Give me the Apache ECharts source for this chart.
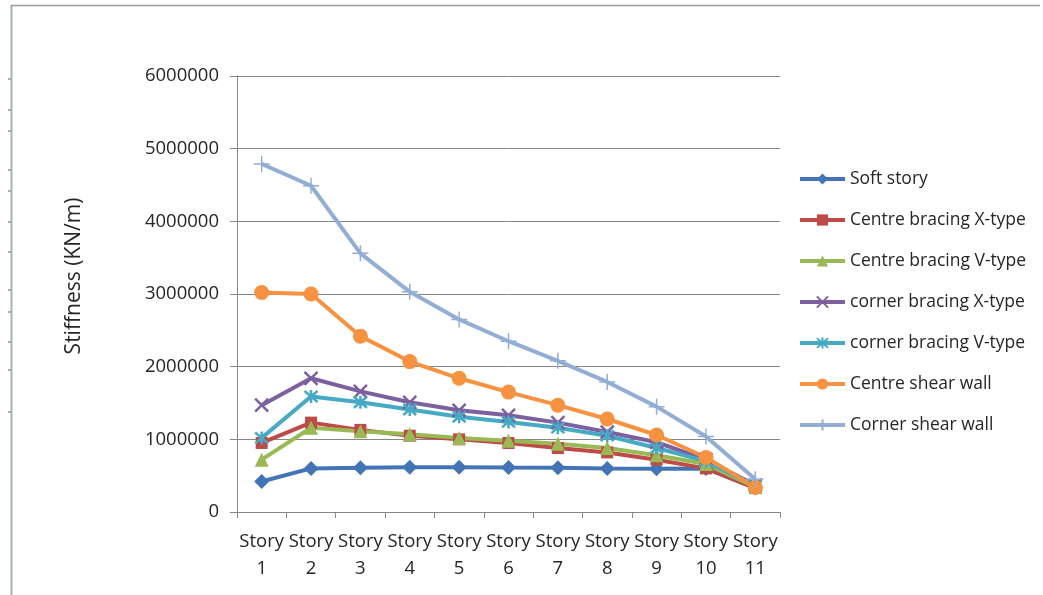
<!DOCTYPE html>
<html>
<head>
<meta charset="utf-8">
<title>Storey stiffness</title>
<script src="https://cdn.jsdelivr.net/npm/echarts@6/dist/echarts.min.js"></script>
<style>
  html, body { margin: 0; padding: 0; background: #ffffff; }
  #chart { width: 1043px; height: 595px; }
</style>
</head>
<body>
<div id="chart"></div>
<script>
// Storeys along the x axis
const stories = ['Story 1', 'Story 2', 'Story 3', 'Story 4', 'Story 5', 'Story 6',
                 'Story 7', 'Story 8', 'Story 9', 'Story 10', 'Story 11'];

// Lateral stiffness per storey (KN/m) for each structural system
const softStory       = [420000, 600000, 610000, 615000, 615000, 612000, 610000, 600000, 595000, 600000, 330000];
const centreBracingX  = [950000, 1230000, 1130000, 1050000, 1000000, 950000, 880000, 820000, 720000, 600000, 330000];
const centreBracingV  = [720000, 1160000, 1110000, 1070000, 1020000, 980000, 940000, 880000, 780000, 660000, 340000];
const cornerBracingX  = [1470000, 1840000, 1660000, 1510000, 1400000, 1330000, 1230000, 1100000, 960000, 720000, 370000];
const cornerBracingV  = [1020000, 1590000, 1510000, 1410000, 1310000, 1240000, 1160000, 1050000, 880000, 700000, 360000];
const centreShearWall = [3020000, 3000000, 2420000, 2070000, 1840000, 1650000, 1470000, 1280000, 1060000, 750000, 340000];
const cornerShearWall = [4790000, 4490000, 3560000, 3030000, 2650000, 2350000, 2080000, 1790000, 1450000, 1040000, 450000];

// Y axis range and step
const yMin = 0;
const yMax = 6000000;
const yStep = 1000000;

const yTitle = 'Stiffness (KN/m)';

const FONT = '"Open Sans", "Noto Sans", sans-serif';
const TEXT = '#262626';
const AXIS = '#868686';

// Stroked marker outlines (drawn with borderColor, no fill)
const X_MARK = 'path://M0,0 L10,10 M10,0 L0,10';
const STAR_MARK = 'path://M5,0 L5,10 M0.8,0.8 L9.2,9.2 M9.2,0.8 L0.8,9.2';
const PLUS_MARK = 'path://M5,0 L5,10 M0,5 L10,5';

const LINE_W = 4;

function filledLine(name, data, color, symbol, size) {
  return {
    name, type: 'line', data,
    symbol, symbolSize: size,
    lineStyle: { color, width: LINE_W },
    itemStyle: { color },
    emphasis: { disabled: true }
  };
}

function strokedLine(name, data, color, symbol, size, bw) {
  return {
    name, type: 'line', data,
    symbol, symbolSize: size,
    lineStyle: { color, width: LINE_W },
    itemStyle: { color: 'rgba(0,0,0,0)', borderColor: color, borderWidth: bw },
    emphasis: { disabled: true }
  };
}

// Small marks along the left frame edge
const edgeMarks = [79, 110, 131, 170, 191, 222, 252, 290, 312, 342, 370, 412].map(y => ({
  type: 'line',
  shape: { x1: 8, y1: y, x2: 11, y2: y },
  style: { stroke: '#5a6a6a', lineWidth: 1 },
  silent: true
}));

const chart = echarts.init(document.getElementById('chart'), null, { renderer: 'canvas' });

chart.setOption({
  animation: false,
  backgroundColor: '#ffffff',
  textStyle: { fontFamily: FONT },
  graphic: [
    { type: 'line', shape: { x1: 11.5, y1: 5, x2: 11.5, y2: 595 },
      style: { stroke: '#a6b4b4', lineWidth: 2 }, silent: true },
    { type: 'line', shape: { x1: 11, y1: 5.5, x2: 1040, y2: 5.5 },
      style: { stroke: '#9a9a9a', lineWidth: 1.5 }, silent: true },
    ...edgeMarks,
    // Vertical axis title
    { type: 'text', x: 74, y: 276, rotation: Math.PI / 2, silent: true,
      style: { text: yTitle, fontFamily: FONT, fontSize: 21, fill: TEXT,
               align: 'center', verticalAlign: 'middle' } }
  ],
  grid: { left: 237, right: 263, top: 76, bottom: 83, containLabel: false },
  legend: {
    orient: 'vertical',
    left: 793,
    top: 164,
    itemWidth: 45,
    itemHeight: 14,
    itemGap: 21,
    lineStyle: { width: 4 },
    textStyle: { fontFamily: FONT, fontSize: 17.5, color: TEXT, lineHeight: 20 },
    data: ['Soft story', 'Centre bracing X-type', 'Centre bracing V-type',
           'corner bracing X-type', 'corner bracing V-type',
           'Centre shear wall', 'Corner shear wall']
  },
  xAxis: {
    type: 'category',
    data: stories,
    boundaryGap: true,
    axisLine: { lineStyle: { color: AXIS, width: 1 } },
    axisTick: { show: true, length: 6, alignWithLabel: false, lineStyle: { color: AXIS } },
    axisLabel: {
      interval: 0,
      margin: 16,
      fontFamily: FONT,
      fontSize: 18.5,
      lineHeight: 27,
      color: TEXT,
      formatter: v => v.replace(' ', '\n')
    },
    splitLine: { show: false }
  },
  yAxis: {
    type: 'value',
    min: yMin,
    max: yMax,
    interval: yStep,
    axisLine: { show: true, lineStyle: { color: AXIS, width: 1 } },
    axisTick: { show: true, length: 7, lineStyle: { color: AXIS } },
    axisLabel: {
      margin: 18,
      fontFamily: FONT,
      fontSize: 18.5,
      color: TEXT,
      formatter: v => String(v)
    },
    splitLine: { show: true, lineStyle: { color: AXIS, width: 1 } }
  },
  series: [
    filledLine('Soft story', softStory, '#4375b6', 'diamond', 15),
    filledLine('Centre bracing X-type', centreBracingX, '#be4b48', 'rect', 12),
    filledLine('Centre bracing V-type', centreBracingV, '#98b954', 'triangle', 14),
    strokedLine('corner bracing X-type', cornerBracingX, '#7d60a0', X_MARK, 13, 2.5),
    strokedLine('corner bracing V-type', cornerBracingV, '#46aac5', STAR_MARK, 13, 2.5),
    filledLine('Centre shear wall', centreShearWall, '#f69240', 'circle', 15),
    strokedLine('Corner shear wall', cornerShearWall, '#93aed5', PLUS_MARK, 16, 1.5)
  ]
});
</script>
</body>
</html>
